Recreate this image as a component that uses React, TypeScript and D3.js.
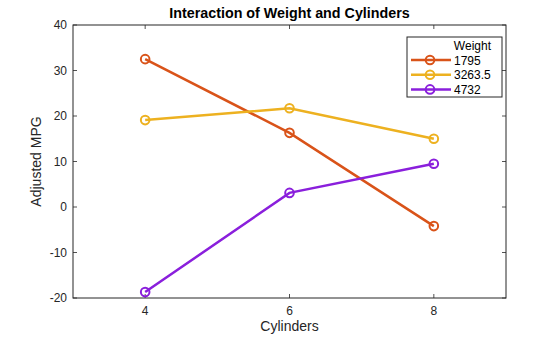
import React from "react";
import * as d3 from "d3";

const cylinders = [4, 6, 8];
const weights = ["1795", "3263.5", "4732"];
const mpg1795 = [32.5, 16.3, -4.2];
const mpg3263 = [19.1, 21.7, 15.0];
const mpg4732 = [-18.7, 3.1, 9.5];
const colors = ["#D95319", "#EDB120", "#8A1FDC"];
const xTicks = [4, 6, 8];
const yTicks = [-20, -10, 0, 10, 20, 30, 40];

export default function App() {
  const W = 560, H = 337;
  const L = 73, R = 506, T = 25, B = 298;
  const x = d3.scaleLinear().domain([3, 9]).range([L, R]);
  const y = d3.scaleLinear().domain([-20, 40]).range([B, T]);
  const series = [mpg1795, mpg3263, mpg4732];
  const line = d3.line<number>().x((_, i) => x(cylinders[i])).y((d) => y(d));
  const font = "'Liberation Sans', Arial, Helvetica, sans-serif";
  const tl = 4;
  return (
    <svg width={W} height={H} style={{ position: "absolute", left: 0, top: 0 }} fontFamily={font}>
      <rect x={0} y={0} width={W} height={H} fill="#fff" />
      <text x={(L + R) / 2} y={18} textAnchor="middle" fontSize={14.3} fontWeight="bold" fill="#000">
        Interaction of Weight and Cylinders
      </text>
      {xTicks.map((t) => (
        <g key={"x" + t}>
          <line x1={x(t)} x2={x(t)} y1={B} y2={B - tl} stroke="#262626" strokeWidth={0.8} />
          <line x1={x(t)} x2={x(t)} y1={T} y2={T + tl} stroke="#262626" strokeWidth={0.8} />
          <text x={x(t)} y={B + 17} textAnchor="middle" fontSize={12} fill="#262626">{t}</text>
        </g>
      ))}
      {yTicks.map((t) => (
        <g key={"y" + t}>
          <line x1={L} x2={L + tl} y1={y(t)} y2={y(t)} stroke="#262626" strokeWidth={0.8} />
          <line x1={R} x2={R - tl} y1={y(t)} y2={y(t)} stroke="#262626" strokeWidth={0.8} />
          <text x={L - 6} y={y(t) + 4} textAnchor="end" fontSize={12} fill="#262626">{t}</text>
        </g>
      ))}
      <rect x={L} y={T} width={R - L} height={B - T} fill="none" stroke="#262626" strokeWidth={1} />
      <text x={(L + R) / 2} y={B + 33} textAnchor="middle" fontSize={14} fill="#262626">Cylinders</text>
      <text transform={`translate(${41},${(T + B) / 2}) rotate(-90)`} textAnchor="middle" fontSize={14} fill="#262626">
        Adjusted MPG
      </text>
      {series.map((s, i) => (
        <g key={"s" + i}>
          <path d={line(s) || ""} fill="none" stroke={colors[i]} strokeWidth={2.5} />
          {s.map((v, j) => (
            <circle key={j} cx={x(cylinders[j])} cy={y(v)} r={4.3} fill="none" stroke={colors[i]} strokeWidth={2} />
          ))}
        </g>
      ))}
      <g>
        <rect x={407} y={37} width={95} height={60} fill="#fff" stroke="#262626" strokeWidth={1} />
        <text x={491} y={50} textAnchor="end" fontSize={12} fill="#000">Weight</text>
        {weights.map((w, i) => (
          <g key={w}>
            <line x1={411} x2={451} y1={60 + i * 14.7} y2={60 + i * 14.7} stroke={colors[i]} strokeWidth={2.5} />
            <circle cx={430} cy={60 + i * 14.7} r={4.3} fill="none" stroke={colors[i]} strokeWidth={2} />
            <text x={454} y={64.5 + i * 14.7} fontSize={12} fill="#000">{w}</text>
          </g>
        ))}
      </g>
    </svg>
  );
}
